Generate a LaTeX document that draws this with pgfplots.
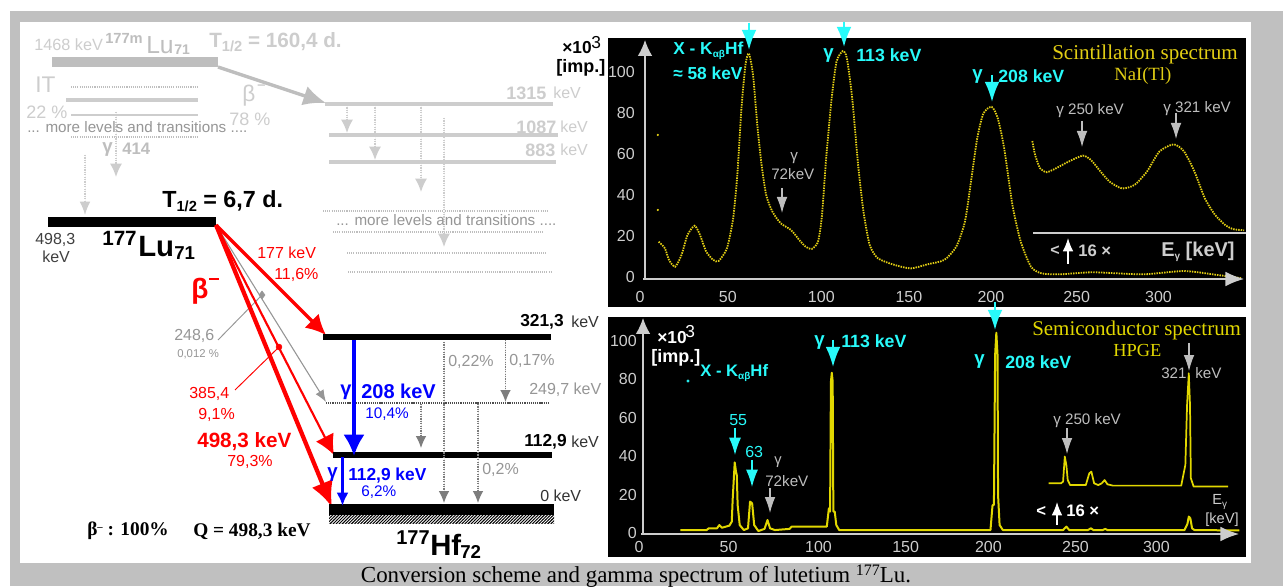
\documentclass[border=0pt]{standalone}
\usepackage{fontspec}
\usepackage{pgfplots}
\pgfplotsset{compat=1.18}
\usetikzlibrary{arrows.meta,patterns}
\setmainfont{Liberation Sans}
\newfontfamily\serif{Liberation Serif}
\definecolor{bg}{RGB}{192,192,192}
\definecolor{lg}{RGB}{205,205,205}
\definecolor{lgd}{RGB}{190,190,190}
\definecolor{mg}{RGB}{150,150,150}
\definecolor{dg}{RGB}{125,125,125}
\definecolor{tg}{RGB}{185,185,185}
\definecolor{rd}{RGB}{255,0,0}
\definecolor{bl}{RGB}{0,0,255}
\definecolor{cy}{RGB}{40,250,250}
\definecolor{yl}{RGB}{225,205,20}
\definecolor{yl2}{RGB}{225,215,0}
\pgfdeclarepatternformonly{hatchd}{\pgfqpoint{-1pt}{-1pt}}{\pgfqpoint{3pt}{3pt}}{\pgfqpoint{2.3pt}{2.3pt}}{\pgfsetlinewidth{0.7pt}\pgfpathmoveto{\pgfqpoint{-0.2pt}{-0.2pt}}\pgfpathlineto{\pgfqpoint{2.5pt}{2.5pt}}\pgfusepath{stroke}}
\newcommand\tx[6][west]{\node[anchor=#1,inner sep=0pt,text=#5,font=\fontsize{#4}{#4}\selectfont] at (axis cs:#2,#3) {#6};}
\newcommand\arr[8][]{\addplot[draw=#2,fill=#2,line width=#3pt,-{Latex[length=#4pt,width=#5pt]},#1] coordinates {(#6,#7)(#8)};}
\newcommand\lev[6][]{\addplot[draw=#2,line width=#3pt,#1] coordinates {(#4,#6)(#5,#6)};}
\newcommand\subs[1]{\raisebox{-2pt}{\fontsize{7.5}{7.5}\selectfont #1}}
\newcommand\subsb[1]{\raisebox{-3pt}{\fontsize{11}{11}\selectfont #1}}
\pgfplotsset{
  pxaxis/.style={at={(0pt,0pt)},anchor=south west,scale only axis,width=962.25pt,height=439.5pt,
    xmin=0,xmax=1283,ymin=0,ymax=586,y dir=reverse,hide axis,clip=false},
  specaxis/.style={anchor=south west,scale only axis,clip=false,
    axis line style={draw=none},tick style={draw=none},major tick length=0pt,
    xtick pos=bottom,ytick pos=left,ymin=0,xmin=0,
    ytick={0,20,40,60,80,100},
    /pgf/number format/assume math mode=true,
    tick label style={font=\fontsize{12}{12}\selectfont,text=lg,inner sep=0pt},
    xticklabels={0,50,100,150,200,250,300}},
}
\begin{document}
\begin{tikzpicture}
% ---------- scheme ----------
\begin{axis}[pxaxis]
\fill[white] (0,0) rectangle (1283,586);
\fill[bg] (10,11) rectangle (1283,586);
\fill[white] (20,22) rectangle (1251,563);
\fill[black] (608,38) rectangle (1246,307);
\fill[black] (608,317) rectangle (1246,557);
% faded upper part
\lev{lgd}{7.5}{52}{218}{62}
\arr{lgd}{2.6}{17}{15}{218}{67}{326,103}
\lev[dash pattern=on 0.8pt off 0.8pt]{lgd}{0.9}{71}{198}{87}
\lev{lg}{2.6}{66}{198}{100}
\lev{lg}{2.2}{71}{198}{115}
\lev[dash pattern=on 0.8pt off 0.8pt]{lgd}{0.9}{71}{198}{137}
\lev{lg}{3.2}{325}{553}{104}
\lev{lg}{2.6}{329}{558}{135}
\lev{lg}{2.6}{329}{556}{162}
\lev[dash pattern=on 0.8pt off 0.8pt]{lgd}{0.9}{323}{434}{211}
\lev[dash pattern=on 0.8pt off 0.8pt]{lgd}{0.9}{436}{547}{211}
\lev[dash pattern=on 0.8pt off 0.8pt]{lgd}{0.9}{333}{543}{232}
\lev[dash pattern=on 0.8pt off 0.8pt]{lgd}{0.9}{347}{547}{253}
\lev[dash pattern=on 0.8pt off 0.8pt]{lgd}{0.9}{348}{552}{272}
\arr[dash pattern=on 0.9pt off 0.9pt]{lg}{1.2}{10}{9}{116}{112}{116,177}
\arr[dash pattern=on 0.9pt off 0.9pt]{lg}{1}{10}{8}{85}{155}{85,215}
\arr[dash pattern=on 0.9pt off 0.9pt]{lg}{1.2}{10}{9}{347}{105}{347,133}
\arr[dash pattern=on 0.9pt off 0.9pt]{lg}{1.2}{10}{9}{375}{105}{375,160}
\arr[dash pattern=on 0.9pt off 0.9pt]{lg}{1.2}{10}{9}{421}{105}{421,192}
\arr[dash pattern=on 0.9pt off 0.9pt]{lg}{1.2}{10}{9}{444}{118}{444,247}
\tx{34}{45}{12.2}{lg}{1468 keV}
\tx{105}{38}{11}{lgd}{\bfseries 177m}
\tx{146}{45}{18.5}{lgd}{Lu}
\tx{174}{50}{10.5}{lgd}{\bfseries 71}
\tx{209}{42}{15.5}{lg}{\bfseries T\subsb{1/2} = 160,4 d.}
\tx{35}{85}{17}{lg}{IT}
\tx{26}{112}{13.5}{lg}{22 \%}
\tx{27}{127}{11.4}{mg}{... more levels and transitions ....}
\tx{242}{96}{17}{lg}{β}
\tx{257}{87}{11}{lg}{\bfseries --}
\tx{229}{119}{13.5}{lg}{78 \%}
\tx{102}{150}{14}{lgd}{\bfseries γ}
\tx{122}{149}{12.5}{lgd}{\bfseries 414}
\tx{506}{93}{13.5}{lg}{\bfseries 1315}
\tx{553}{93}{12}{lg}{keV}
\tx{516}{127}{13.5}{lg}{\bfseries 1087}
\tx{560}{127}{12}{lg}{keV}
\tx{525}{150}{13.5}{lg}{\bfseries 883}
\tx{560}{150}{12}{lg}{keV}
\tx{336}{220}{11.4}{mg}{... more levels and transitions ....}
% Lu level
\lev{black}{7.8}{48}{216}{222}
\tx{162}{201}{17.5}{black}{\bfseries T\subsb{\bfseries 1/2} = 6,7 d.}
\tx{35}{240}{12}{black!75}{498,3}
\tx{42}{257}{12}{black!75}{keV}
\tx{102}{238}{15.5}{black}{\bfseries 177}
\tx{138}{247}{22}{black}{\bfseries Lu}
\tx{174}{253}{14}{black}{\bfseries 71}
% beta arrows
\arr{mg}{0.8}{9}{7}{216}{225}{326,402}
\addplot[only marks,mark=diamond*,mark size=3pt,color=mg] coordinates {(262,295)};
\addplot[draw=mg,line width=0.7pt] coordinates {(218,340)(262,295)};
\arr{rd}{1.6}{15}{15}{216}{225}{334,455}
\addplot[only marks,mark=*,mark size=2.2pt,color=rd] coordinates {(279,347)};
\addplot[draw=rd,line width=0.7pt] coordinates {(235,390)(279,347)};
\arr{rd}{3.2}{19}{17}{216}{225}{332,507}
\arr{rd}{2.6}{15}{15}{216}{225}{326,335}
\tx{257}{253}{12}{rd}{177 keV}
\tx{274}{275}{12}{rd}{11,6\%}
\tx{191}{291}{21}{rd}{\bfseries β}
\addplot[draw=rd,line width=1.4pt] coordinates {(209,279)(219,279)};
\tx{174}{336}{12}{mg}{248,6}
\tx{177}{354}{8.5}{mg}{0,012 \%}
\tx{189}{394}{12}{rd}{385,4}
\tx{198}{415}{12}{rd}{9,1\%}
\tx{197}{442}{15.5}{rd}{\bfseries 498,3 keV}
\tx{227}{462}{12}{rd}{79,3\%}
% Hf levels
\lev{black}{4.5}{323}{551}{337}
\lev[dash pattern=on 0.9pt off 0.7pt]{black!70}{1}{326}{549}{403}
\lev{black}{3.8}{333}{552}{455}
\lev{black}{8.2}{329}{554}{509.5}
\fill[pattern=hatchd,pattern color=black] (329,515) rectangle (554,523);
\tx{520}{322}{13}{black}{\bfseries 321,3}
\tx{571}{322}{12}{black!80}{keV}
\tx{529}{390}{12}{mg}{249,7 keV}
\tx{524}{442}{13}{black}{\bfseries 112,9}
\tx{571}{442}{12}{black!80}{keV}
\tx{540}{496}{12}{black!80}{0 keV}
% gamma arrows
\arr{bl}{2.7}{16}{16}{354}{340}{354,456}
\arr{bl}{2}{10}{9}{342.5}{457}{342.5,506}
\tx{340}{392}{15}{bl}{\bfseries γ}
\tx{361}{391}{15}{bl}{\bfseries 208 keV}
\tx{365}{414}{11.5}{bl}{10,4\%}
\tx{327}{475}{14}{bl}{\bfseries γ}
\tx{348}{476}{13}{bl}{\bfseries 112,9 keV}
\tx{361}{492}{11.5}{bl}{6,2\%}
\arr[dash pattern=on 0.9pt off 0.9pt]{dg}{0.9}{9}{8}{444}{342}{444,503}
\arr[dash pattern=on 0.9pt off 0.9pt]{dg}{0.9}{9}{8}{505.5}{340}{505.5,402}
\arr[dash pattern=on 0.9pt off 0.9pt]{dg}{0.9}{9}{8}{421}{404}{421,448}
\arr[dash pattern=on 0.9pt off 0.9pt]{dg}{0.9}{9}{8}{478}{404}{478,503}
\tx{448}{362}{12}{mg}{0,22\%}
\tx{509}{361}{12}{mg}{0,17\%}
\tx{482}{470}{12}{mg}{0,2\%}
\tx{87}{531}{14.5}{black}{\serif\bfseries β\raisebox{4pt}{\fontsize{8}{8}\selectfont –} : 100\%}
\tx{193}{531}{14.5}{black}{\serif\bfseries Q = 498,3 keV}
\tx{396}{538}{15}{black}{\bfseries 177}
\tx{430}{545}{22}{black}{\bfseries Hf}
\tx{460}{552}{14}{black}{\bfseries 72}
\tx[center]{636}{576}{17.2}{black}{\serif Conversion scheme and gamma spectrum of lutetium \raisebox{5pt}{\fontsize{12}{12}\selectfont 177}Lu.}
\tx{562}{48}{13}{black}{\bfseries ×10}
\tx{591}{43}{13}{black}{3}
\tx{556}{68}{13.5}{black}{\bfseries [imp.]}
\end{axis}
% ---------- scintillation spectrum ----------
\begin{axis}[specaxis,at={(480pt,231.75pt)},width=451.5pt,height=177.75pt,
  xmax=348.3,ymax=115.6,
  xtick={0,50.8,104.9,155.6,203,252.6,300},
  x tick label style={anchor=center,yshift=-15pt},
  y tick label style={anchor=east,xshift=-3.75pt}]
\addplot[smooth,tension=0.4,draw=yl,line width=1.35pt,dash pattern=on 1.1pt off 0.8pt] coordinates {
(10.8,17.2)(14.4,14)(16.8,8.3)(20.3,5)(24,10.7)(27.5,20.5)(31.6,25)(34.7,20.5)(38.3,12.4)(42.4,8.3)(45.5,7.8)(50.3,14)(53.9,28.6)(56.3,49.8)(58.7,82.3)(61,103.4)(63,109)(65.4,98.5)(67.7,75.8)(70.1,56.3)(73,40)(76.6,31.9)(81.4,26.2)(87.4,22.9)(92.2,18)(95.8,14.8)(99.4,13.7)(103,17.2)(105.3,30.2)(107.7,57.9)(110.9,87.2)(113.7,105)(117.3,110.2)(119.7,106.7)(122.8,87)(126.2,54.6)(129.3,31.9)(132.9,15.6)(137.7,9.1)(147.2,5.9)(156.8,4.2)(166.4,6.2)(176,8.3)(183,14.8)(188,27)(191.5,46.5)(195.1,67.6)(198.7,79.8)(203.5,83)(207,77.4)(210.7,62.8)(215.5,35)(220.3,17.2)(226.2,5)(232.2,1.8)(243,1.3)(262,2.3)(291,1.3)(314.8,2.9)(334,1)(348,-0.6)};
\addplot[smooth,tension=0.4,draw=yl,line width=1.35pt,dash pattern=on 1.1pt off 0.8pt] coordinates {
(227,66.3)(228.6,59.5)(231.5,53)(235.3,51.1)(240.6,53)(247.8,56.2)(256.2,59.2)(261,57)(265.7,52.2)(271.7,46.5)(278.9,43.2)(286.1,44.9)(293.3,51.4)(300.5,61.2)(308.8,64.7)(314.8,61.2)(320.8,51.4)(326.8,38.4)(332.8,30.2)(338.8,25.2)(343.5,23.3)(349.5,22.8)};
\addplot[only marks,mark=*,mark size=0.6pt,color=yl] coordinates {(10.3,69.3)(10.3,32.7)};
\end{axis}
% ---------- semiconductor spectrum ----------
\begin{axis}[specaxis,at={(479.25pt,39.5pt)},width=450.5pt,height=160.7pt,
  xmax=348.3,ymax=111.4,
  xtick={0,51.9,104.1,154.6,202.6,253.1,300},
  x tick label style={anchor=center,yshift=-10.5pt},
  y tick label style={anchor=east,xshift=-1.5pt}]
\addplot[draw=yl2,line width=1.5pt,line join=round] coordinates {
(24,1.7)(39.2,1.7)(40.4,2.6)(45.2,2.6)(46.6,4.3)(48.1,2.9)(52.4,4)(53.8,6.1)(54.3,17.3)(55.5,36.9)(56.25,32)(56.7,30.3)(57.2,14.7)(58.4,4.3)(60.8,1.7)(63.2,2.6)(64.4,16.5)(65.6,15.6)(66.8,4.3)(69.2,1.2)(72.8,2.3)(74.5,6.9)(76,2.6)(78.8,1.7)(87.3,2.3)(88.5,3.5)(108.9,3.5)(110.1,13)(110.8,11.3)(111.3,78.9)(111.8,83.5)(112.3,78.9)(112.7,11.3)(113.5,11.3)(114.4,4.3)(116.1,1.7)(203.8,1.7)(205,14.7)(205.8,14.7)(206.5,92.7)(207.2,104.3)(207.9,92.7)(208.2,19.9)(209.1,4.3)(211,1.7)(245.9,1.7)(247.8,3.5)(249.5,1.7)(260.3,1.7)(262,2.6)(263.5,1.7)(268.8,1.7)(270.4,2.3)(271.6,1.7)(316.3,1.7)(318,4.9)(318.8,8.7)(319.7,7.8)(320.7,2.6)(322.1,1.7)(348.1,1.5)};
\addplot[draw=yl2,line width=1.3pt,line join=round] coordinates {
(237.5,26)(244.7,26)(245.9,26.9)(246.9,39.9)(247.8,35.5)(248.6,27.7)(250,25.1)(259.1,25.1)(261.1,31.2)(262.3,32.1)(263.9,26)(266.3,25.1)(268.3,26)(270,27.7)(271.6,25.5)(274.8,24.8)(314.4,24.8)(316.8,35.5)(317.8,66.7)(318.8,83.2)(319.5,66.7)(320,28.6)(321.6,24.3)(341.6,24.3)};
\end{axis}
% ---------- annotations ----------
\begin{axis}[pxaxis]
% axes of the spectra
\arr{lg}{1}{12}{11}{645}{279}{645,40}
\arr{lg}{1}{14}{11}{643}{279}{1244,279}
\arr{lg}{1}{12}{11}{643}{534}{643,318}
\arr{lg}{1}{14}{11}{641}{534}{1239,534}
\addplot[draw=lg,line width=0.9pt] coordinates {(1033,233)(1246,233)};
% cyan arrows
\arr{cy}{1.6}{15}{11}{749}{23}{749,50}
\arr{cy}{1.6}{15}{11}{844}{22}{844,47}
\arr{cy}{1.6}{15}{11}{992}{75}{992,102}
\arr{cy}{1.6}{15}{11}{995}{302}{995,330}
\arr{cy}{1.6}{15}{11}{833}{340}{833,367}
\arr{cy}{1}{13}{9}{735}{428}{735,455}
\arr{cy}{1}{13}{9}{752}{460}{752,487}
\tx{673}{51}{13}{cy}{\bfseries X - K\subs{αβ}Hf}
\tx{673}{73}{13}{cy}{\bfseries ≈ 58 keV}
\tx{823}{56}{14}{cy}{\bfseries γ}
\tx{856}{55}{13.3}{cy}{\bfseries 113 keV}
\tx{972}{77}{14}{cy}{\bfseries γ}
\tx{998}{76}{13.3}{cy}{\bfseries 208 keV}
\tx{1052}{54}{15.8}{yl}{\serif Scintillation spectrum}
\tx{1114}{76}{14}{yl}{\serif NaI(Tl)}
\tx{1056}{111}{11.4}{lgd}{γ 250 keV}
\tx{1163}{109}{11.4}{lgd}{γ 321 keV}
\tx{790}{158}{11.4}{lgd}{γ}
\tx{771}{174}{11.4}{lgd}{72keV}
\arr{lgd}{0.8}{12}{8}{782}{188}{782,213}
\arr{lgd}{0.8}{12}{8}{1082}{121}{1082,147}
\arr{lgd}{0.8}{12}{8}{1176}{113}{1176,139}
\tx{1050}{251}{12}{lg}{\bfseries <}
\arr{white}{1}{10}{8}{1068}{264}{1068,238}
\tx{1078}{251}{12.5}{lg}{\bfseries 16 ×}
\tx{1161}{252}{15}{lg}{\bfseries E\subs{γ} [keV]}
% lower spectrum text
\tx{657}{338}{13}{white}{\bfseries ×10}
\tx{685}{332}{13}{white}{3}
\tx{651}{358}{13.5}{white}{\bfseries [imp.]}
\addplot[only marks,mark=*,mark size=0.9pt,color=cy] coordinates {(688,381)};
\tx{700}{373}{12.5}{cy}{\bfseries X - K\subs{αβ}Hf}
\tx{814}{343}{14}{cy}{\bfseries γ}
\tx{841}{341}{13.3}{cy}{\bfseries 113 keV}
\tx{974}{362}{14}{cy}{\bfseries γ}
\tx{1005}{362}{13.3}{cy}{\bfseries 208 keV}
\tx{1032}{330}{15.7}{yl2}{\serif Semiconductor spectrum}
\tx{1113}{350}{13.8}{yl2}{\serif HPGE}
\arr{lgd}{0.8}{12}{8}{1189}{343}{1189,371}
\tx{1161}{373}{11.4}{lgd}{321}
\tx{1195}{373}{11.4}{lgd}{keV}
\tx{1053}{421}{11.4}{lgd}{γ 250 keV}
\arr{lgd}{0.8}{12}{8}{1067}{428}{1067,454}
\tx{729}{420}{12}{cy}{55}
\tx{745}{452}{12}{cy}{63}
\tx{774}{462}{11}{lgd}{γ}
\tx{765}{481}{11.4}{lgd}{72keV}
\arr{lgd}{0.8}{12}{8}{770}{488}{770,513}
\tx{1036}{511}{12.5}{white}{\bfseries <}
\arr{white}{1}{10}{8}{1057}{525}{1057,502}
\tx{1066}{511}{12.5}{white}{\bfseries 16 ×}
\tx{1212}{502}{11}{lg}{E\subs{γ}}
\tx{1205}{520}{11}{lg}{[keV]}
\end{axis}
\end{tikzpicture}
\end{document}
